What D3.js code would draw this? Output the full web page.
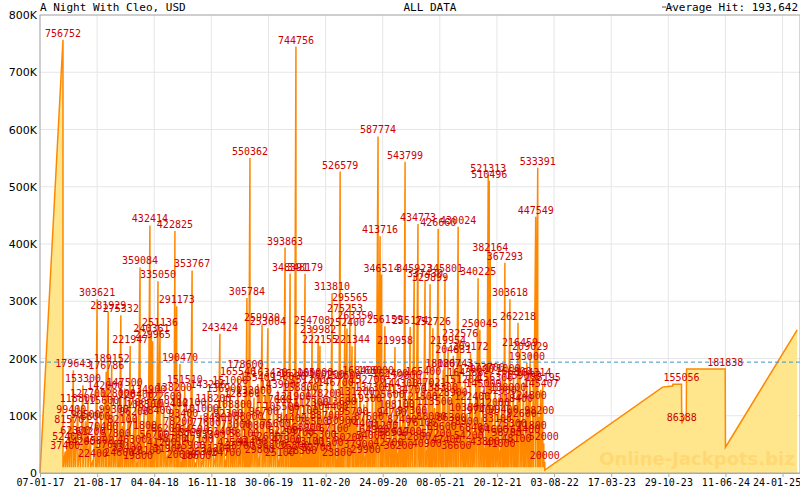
<!DOCTYPE html>
<html>
<head>
<meta charset="utf-8">
<script src="https://cdn.jsdelivr.net/npm/d3@7"></script>
<style>
  body { margin: 0; background: #fff; }
  text { font-family: 'DejaVu Sans Mono', monospace; }
</style>
</head>
<body>
<svg id="chart"></svg>
<script>
const [width, height] = [800, 490];
const start = new Date(2017, 0, 7);
const average = 193642;

// hits: [days since 07-01-17, jackpot value when hit]
const hits = [
  [91, 756752], [100, 37400], [108, 52400], [116, 81570], [124, 99400], [132, 179643], [140, 62300],
  [150, 118800], [160, 44200], [170, 153300], [180, 90500], [190, 127700], [200, 61200], [210, 22400],
  [220, 88000], [226, 303621], [234, 45800], [242, 115600], [250, 70400], [258, 142000], [262, 176786],
  [270, 281929], [277, 37600], [284, 189152], [292, 99300], [300, 57800], [308, 128000], [314, 24600],
  [320, 275332], [327, 82100], [335, 147500], [343, 33400], [350, 111700], [357, 221947], [365, 46300],
  [372, 96200], [380, 126400], [388, 19800], [396, 359084], [404, 71800], [412, 108300], [420, 28100],
  [428, 134900], [435, 432414], [441, 240361], [446, 229965], [453, 56700], [461, 98400], [467, 335050],
  [475, 251136], [482, 41200], [490, 122600], [498, 66200], [506, 31900], [514, 109400], [522, 48700],
  [530, 138200], [534, 422825], [541, 291173], [547, 78200], [554, 190470], [561, 20600], [567, 93400],
  [573, 151510], [580, 58800], [588, 112100], [595, 35900], [602, 353767], [610, 64500], [618, 18600],
  [628, 47100], [637, 101000], [647, 26300], [657, 77600], [666, 143206], [676, 55300], [686, 118200],
  [696, 31200], [704, 84900], [712, 243424], [720, 61400], [729, 136900], [737, 24700], [745, 92300],
  [753, 151000], [761, 42500], [768, 108800], [776, 73000], [784, 165546], [792, 36700], [800, 128300],
  [808, 58100], [813, 178600], [819, 305784], [825, 88000], [831, 550362], [839, 44400], [847, 132000],
  [855, 70800], [862, 155409], [870, 29800], [879, 259930], [886, 96700], [894, 52600], [902, 253004],
  [909, 163430], [917, 38800], [925, 117600], [933, 75600], [941, 143900], [949, 25100], [956, 105500],
  [963, 62200], [970, 393863], [976, 47900], [983, 158000], [990, 348391], [996, 84400], [1002, 121900],
  [1007, 36800], [1013, 744756], [1019, 162000], [1025, 59700], [1031, 138800], [1037, 28300], [1043, 97100],
  [1049, 348179], [1055, 68900], [1060, 151200], [1066, 43100], [1072, 112300], [1077, 254708], [1083, 78500],
  [1089, 165000], [1095, 32700], [1101, 239982], [1108, 222155], [1114, 55300], [1121, 128200], [1128, 88700],
  [1135, 160200], [1142, 41500], [1149, 104400], [1156, 313810], [1163, 67100], [1170, 146700], [1176, 23800],
  [1182, 113600], [1188, 526579], [1194, 80900], [1200, 158600], [1207, 275253], [1215, 252400], [1221, 50200],
  [1227, 295565], [1235, 221344], [1241, 95700], [1248, 263350], [1254, 131200], [1261, 37900], [1268, 168400],
  [1275, 74400], [1282, 119500], [1289, 29900], [1296, 152700], [1302, 87600], [1309, 54000], [1316, 137300],
  [1323, 64900], [1330, 168000], [1338, 587774], [1346, 413716], [1352, 346514], [1358, 71200], [1365, 256159],
  [1372, 125600], [1379, 42700], [1386, 162400], [1392, 94700], [1399, 58900], [1405, 219958], [1412, 108100],
  [1419, 36200], [1426, 144300], [1433, 82400], [1439, 159800], [1445, 543799], [1451, 61700], [1458, 134700],
  [1465, 255174], [1473, 97300], [1481, 345923], [1488, 52800], [1496, 434773], [1503, 121800], [1510, 76100],
  [1517, 165400], [1524, 337430], [1531, 40900], [1538, 147021], [1544, 329899], [1549, 88000], [1555, 252726],
  [1562, 113500], [1569, 57200], [1576, 426660], [1583, 138300], [1590, 69600], [1596, 180267], [1603, 345801],
  [1609, 47400], [1615, 219954], [1622, 128900], [1629, 86300], [1636, 204831], [1643, 180743], [1648, 36600],
  [1655, 430024], [1663, 232576], [1670, 151204], [1677, 78900], [1683, 164388], [1690, 103800], [1697, 54200],
  [1704, 209172], [1711, 122400], [1718, 68400], [1726, 170000], [1734, 340225], [1741, 250045], [1748, 97400],
  [1755, 145000], [1761, 43800], [1768, 173700], [1774, 521313], [1778, 510496], [1782, 382164], [1789, 112000],
  [1795, 64600], [1802, 156300], [1809, 83100], [1816, 132000], [1823, 41000], [1830, 171000], [1835, 99400],
  [1840, 367293], [1847, 58700], [1853, 138000], [1860, 303618], [1867, 75300], [1874, 166800], [1880, 118400],
  [1886, 48100], [1892, 262218], [1900, 216459], [1907, 92600], [1914, 159000], [1920, 64400], [1927, 193000],
  [1934, 124800], [1940, 209029], [1946, 71800], [1953, 164314], [1962, 447549], [1970, 533391], [1976, 98200],
  [1982, 145407], [1990, 155195], [1994, 52000], [1998, 20000]
];

// after the last hit, the jackpot keeps growing (with a few late hits)
const tail = [
  [1998, 5000], [2464, 150000], [2504, 152000], [2505, 155056], [2539, 155056], [2540, 86388],
  [2558, 104000], [2559, 181838], [2712, 181838], [2713, 45000], [2997, 250000]
];
const tailLabels = [[2539, 155056], [2540, 86388], [2712, 181838]];

const day = d => d3.timeDay.offset(start, d);

// build the sawtooth: ramp from seed to each hit, then drop
let pts = [[day(0), 0]];
hits.forEach(function(h) {
  pts.push([day(h[0]), h[1]]);
  pts.push([day(h[0]), 10000]);
});
tail.forEach(t => pts.push([day(t[0]), t[1]]));

const margin = { left: 40, right: 0, top: 15, bottom: 17 };
const svg = d3.select('#chart').attr('width', width).attr('height', height);

const x = d3.scaleTime()
  .domain([start, day(3008)])
  .range([margin.left, width - margin.right]);
const y = d3.scaleLinear()
  .domain([0, 800000])
  .range([height - margin.bottom, margin.top]);

// grid: 14 evenly spaced date ticks from 07-01-17 to 24-01-25
const lastTick = new Date(2025, 0, 24);
const tickDates = d3.range(14).map(i => new Date(+start + i * (lastTick - start) / 13));
svg.append('g').selectAll('line').data(tickDates).enter().append('line')
  .attr('x1', d => x(d)).attr('x2', d => x(d))
  .attr('y1', y(800000)).attr('y2', y(0))
  .attr('stroke', '#e6e6e6');
svg.append('g').selectAll('line').data(d3.range(100000, 800001, 100000)).enter().append('line')
  .attr('x1', margin.left).attr('x2', width)
  .attr('y1', d => y(d)).attr('y2', d => y(d))
  .attr('stroke', '#e6e6e6');

// area + line
const area = d3.area().x(d => x(d[0])).y0(y(0)).y1(d => y(d[1]));
const line = d3.line().x(d => x(d[0])).y(d => y(d[1]));
svg.append('path').attr('d', area(pts)).attr('fill', '#ffe68c');
svg.append('path').attr('d', line(pts)).attr('fill', 'none')
  .attr('stroke', '#ff8800').attr('stroke-width', 1.5);

// watermark
svg.append('text')
  .attr('x', 697).attr('y', 465)
  .attr('text-anchor', 'middle')
  .style('font-family', '"DejaVu Sans", sans-serif')
  .style('font-weight', 'bold').style('font-size', '18px')
  .attr('fill', '#ffd36a').attr('opacity', 0.7)
  .text('Online-Jackpots.biz');

// average line
svg.append('line')
  .attr('x1', margin.left).attr('x2', width)
  .attr('y1', y(average)).attr('y2', y(average))
  .attr('stroke', '#3a95c8').attr('stroke-dasharray', '4,3');

// labels
const labels = hits.concat(tailLabels);
svg.append('g').selectAll('text').data(labels).enter().append('text')
  .attr('x', d => x(day(d[0])))
  .attr('y', d => y(d[1]) - 3)
  .attr('text-anchor', 'middle')
  .style('font-size', '10px')
  .attr('fill', '#cc0000')
  .text(d => d[1]);

// frame
svg.append('rect')
  .attr('x', margin.left).attr('y', margin.top)
  .attr('width', width - margin.left).attr('height', height - margin.top - margin.bottom)
  .attr('fill', 'none').attr('stroke', '#aaa');

// axes
const yAxis = svg.append('g')
  .attr('transform', 'translate(' + margin.left + ',0)')
  .call(d3.axisLeft(y).tickValues(d3.range(0, 800001, 100000))
    .tickFormat(d => d === 0 ? '0' : (d / 1000) + 'K').tickSize(0).tickPadding(3));
yAxis.select('.domain').remove();
yAxis.selectAll('text').style('font-size', '11px').attr('fill', '#000')
  .style('font-family', '"DejaVu Sans", sans-serif');

const xAxis = svg.append('g')
  .attr('transform', 'translate(0,' + y(0) + ')')
  .call(d3.axisBottom(x).tickValues(tickDates).tickFormat(d3.timeFormat('%d-%m-%y')).tickSize(4).tickPadding(2));
xAxis.select('.domain').attr('stroke', '#aaa');
xAxis.selectAll('line').attr('stroke', '#aaa');
xAxis.selectAll('text').style('font-size', '10px').attr('fill', '#000')
  .attr('dx', (d, i) => i === 13 ? -6 : 0);

// header
svg.append('text').attr('x', 40).attr('y', 11).style('font-size', '11px').text('A Night With Cleo, USD');
svg.append('text').attr('x', 430).attr('y', 11).attr('text-anchor', 'middle').style('font-size', '11px').text('ALL DATA');
svg.append('line').attr('x1', 662).attr('x2', 676).attr('y1', 7).attr('y2', 7)
  .attr('stroke', '#555').attr('stroke-dasharray', '4,3');
svg.append('text').attr('x', 798).attr('y', 11).attr('text-anchor', 'end').style('font-size', '11px').text('Average Hit: 193,642');
</script>
</body>
</html>
